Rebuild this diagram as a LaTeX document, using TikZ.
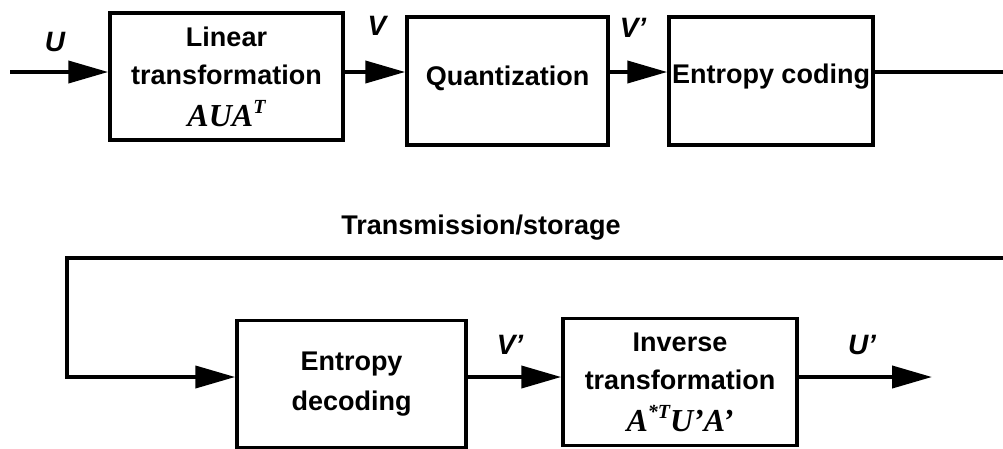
\documentclass[tikz,border=0pt]{standalone}
\usepackage{fontspec}
\setmainfont{Liberation Sans}
\newfontfamily\serifmath{Liberation Serif}
\usetikzlibrary{arrows.meta,calc}
\newcommand{\mysup}[1]{\raisebox{0.4em}{\fontsize{20}{20}\selectfont #1}}
\newcommand{\mth}[1]{{\fontsize{32}{32}\selectfont\serifmath\bfseries\itshape #1}}
\begin{document}
\begin{tikzpicture}[x=1pt,y=-1pt,
  blk/.style={draw,line width=3.5pt,inner sep=0pt,align=center,
    font=\fontsize{27}{42}\selectfont\bfseries},
  sig/.style={line width=4pt,-{Triangle[length=40pt,width=22pt]}},
  wire/.style={line width=4pt},
  lbl/.style={font=\fontsize{28}{28}\selectfont\bfseries\itshape,inner sep=0pt}]
\useasboundingbox (0,0) rectangle (1003,448);
\coordinate (r1) at (0,72);
\coordinate (r2) at (0,377);
\coordinate (in) at (10,72);
\coordinate (topend) at (1003,72);
\coordinate (tright) at (1003,258);
\coordinate (tleft) at (67,258);
\coordinate (outend) at (932,377);

\node[blk,minimum width=233pt,minimum height=127pt] (lt) at (226.5,76.5)
  {Linear\\[-4pt]transformation\\\mth{AUA\mysup{T}}};
\node[blk,minimum width=201pt,minimum height=128pt,text height=20pt,text depth=12pt] (q) at (507.5,81) {Quantization};
\node[blk,minimum width=204pt,minimum height=128pt,text height=20pt,text depth=16pt] (ec) at (771,81) {Entropy coding};
\node[blk,minimum width=229pt,minimum height=127pt,font=\fontsize{27}{40}\selectfont\bfseries] (ed) at (351.5,384) {Entropy\\decoding};
\node[blk,minimum width=234pt,minimum height=127pt,font=\fontsize{27}{38}\selectfont\bfseries] (it) at (680,382)
  {Inverse\\transformation\\[4pt]\mth{A\mysup{*T}U’A’}};

\draw[sig] (in) -- (lt.west |- r1);
\draw[sig] (lt.east |- r1) -- (q.west |- r1);
\draw[sig] (q.east |- r1) -- (ec.west |- r1);
\draw[wire] (ec.east |- r1) -- (topend);
\draw[sig] (tright) -- (tleft) |- (ed.west |- r2);
\draw[sig] (ed.east |- r2) -- (it.west |- r2);
\draw[sig] (it.east |- r2) -- (outend);

\node[lbl] (lU) at (55,42) {U};
\node[lbl] (lV) at (377,26) {V};
\node[lbl] (lV1) at (633,28) {V'};
\node[lbl] (lV2) at (510,345) {V'};
\node[lbl] (lU2) at (862,345) {U'};
\node[font=\fontsize{27}{27}\selectfont\bfseries,inner sep=0pt] (ts) at (481,228) {Transmission/storage};
\end{tikzpicture}
\end{document}
